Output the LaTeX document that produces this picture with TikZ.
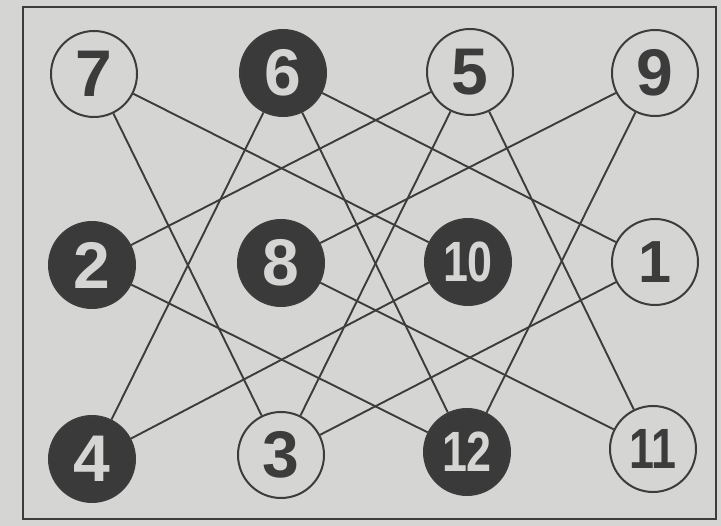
\documentclass[tikz,border=0pt]{standalone}
\usepackage{fontspec}
\setmainfont{Liberation Sans}
\definecolor{paper}{HTML}{D5D5D3}
\definecolor{ink}{HTML}{3C3C3C}
\definecolor{dark}{HTML}{3A3A3A}
\tikzset{
  wnode/.style={circle, draw=ink, line width=2pt, fill=paper, minimum size=86pt, inner sep=0pt, text=ink, font=\fontsize{66}{66}\selectfont\bfseries},
  bnode/.style={circle, draw=ink, line width=2pt, fill=dark, minimum size=86pt, inner sep=0pt, text=paper, font=\fontsize{66}{66}\selectfont\bfseries},
  link/.style={draw=ink, line width=1.9pt},
}
\newcommand{\twodig}[1]{\scalebox{0.68}[0.86]{#1}}
\begin{document}
\begin{tikzpicture}[x=1pt,y=-1pt]
\fill[paper] (0,0) rectangle (721,526);
\useasboundingbox (0,0) rectangle (721,526);
\draw[ink, line width=1.8pt] (23,7) rectangle (716,519);
\node[wnode] (n7) at (94,74) {7};
\node[bnode] (n6) at (283,73) {6};
\node[wnode] (n5) at (470,72) {5};
\node[wnode] (n9) at (655,73) {9};
\node[bnode] (n2) at (92,265) {2};
\node[bnode] (n8) at (281,263) {8};
\node[bnode] (n10) at (468,262) {\twodig{10}};
\node[wnode] (n1) at (655,262) {\scalebox{0.9}{1}};
\node[bnode] (n4) at (92,459) {4};
\node[wnode] (n3) at (281,455) {3};
\node[bnode] (n12) at (467,452) {\twodig{12}};
\node[wnode] (n11) at (653,449) {\twodig{11}};
\draw[link] (n7) -- (n10);
\draw[link] (n7) -- (n3);
\draw[link] (n6) -- (n1);
\draw[link] (n6) -- (n4);
\draw[link] (n6) -- (n12);
\draw[link] (n5) -- (n2);
\draw[link] (n5) -- (n3);
\draw[link] (n5) -- (n11);
\draw[link] (n9) -- (n8);
\draw[link] (n9) -- (n12);
\draw[link] (n2) -- (n12);
\draw[link] (n8) -- (n11);
\draw[link] (n10) -- (n4);
\draw[link] (n1) -- (n3);
\end{tikzpicture}
\end{document}
